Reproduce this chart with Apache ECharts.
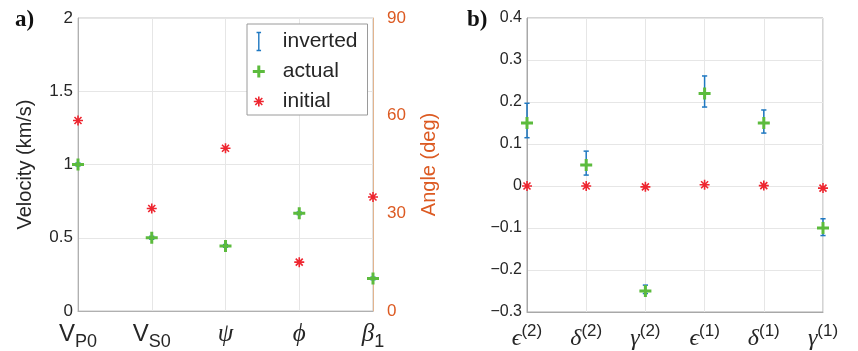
<!DOCTYPE html>
<html><head><meta charset="utf-8">
<script src="https://cdn.jsdelivr.net/npm/echarts@6/dist/echarts.min.js"></script>
<style>html,body{margin:0;padding:0;background:#fff}#c{width:858px;height:351px}</style>
</head><body><div id="c"></div>
<script>
// ---------- Panel a data ----------
const catsA = ['VP0', 'VS0', 'psi', 'phi', 'beta1'];
const labelMainA = ['V', 'V', 'ψ', 'ϕ', 'β'];
const labelSubA = ['P0', 'S0', '', '', '1'];
const velIdx = [0, 1];
const velActual = [1.0, 0.5];
const velInitial = [1.3, 0.7];
const velInvLow = [0.99, 0.49];
const velInvHigh = [1.01, 0.51];
const angIdx = [2, 3, 4];
const angActual = [20, 30, 10];
const angInitial = [50, 15, 35];
const angInvLow = [19.6, 29.6, 9.6];
const angInvHigh = [20.4, 30.4, 10.4];

// ---------- Panel b data ----------
const catsB = ['eps2', 'delta2', 'gamma2', 'eps1', 'delta1', 'gamma1'];
const labelMainB = ['ϵ', 'δ', 'γ', 'ϵ', 'δ', 'γ'];
const labelSupB = ['(2)', '(2)', '(2)', '(1)', '(1)', '(1)'];
const paramActual = [0.15, 0.05, -0.25, 0.22, 0.15, -0.10];
const paramInitial = [0.0, 0.0, -0.002, 0.003, 0.001, -0.005];
const paramInvLow = [0.115, 0.026, -0.256, 0.188, 0.126, -0.118];
const paramInvHigh = [0.197, 0.083, -0.236, 0.262, 0.181, -0.078];

// ---------- styles ----------
const BLUE = '#1f78c1', GREEN = '#5cbb3d', RED = '#ee2630', ORANGE = '#dc5a22';
const TXT = '#262626';
const FONT = '"Liberation Sans", Arial, sans-serif';
const SERIF = '"Liberation Serif", "DejaVu Serif", serif';
const PLUS = 'path://M4.5,0H7.5V4.5H12V7.5H7.5V12H4.5V7.5H0V4.5H4.5Z';
const STAR = 'path://M5,0V10M0,5H10M1.5,1.5L8.5,8.5M8.5,1.5L1.5,8.5';
const STAR_LEG = 'path://M-1,-1L-1,-1M11,11L11,11M5,0V10M0,5H10M1.5,1.5L8.5,8.5M8.5,1.5L1.5,8.5';
const IBEAM = 'path://M0,0H6M3,0V24M0,24H6';

function errRender(params, api) {
  const x = api.value(0), lo = api.value(1), hi = api.value(2);
  const a = api.coord([x, lo]), b = api.coord([x, hi]);
  const cw = 2.6;
  const st = { stroke: BLUE, lineWidth: 1.5, fill: null };
  return { type: 'group', children: [
    { type: 'line', shape: { x1: a[0], y1: a[1], x2: b[0], y2: b[1] }, style: st },
    { type: 'line', shape: { x1: a[0] - cw, y1: a[1], x2: a[0] + cw, y2: a[1] }, style: st },
    { type: 'line', shape: { x1: b[0] - cw, y1: b[1], x2: b[0] + cw, y2: b[1] }, style: st }
  ]};
}
const zip2 = (xs, ys) => xs.map((x, i) => [x, ys[i]]);
const zip3 = (xs, a, b) => xs.map((x, i) => [x, a[i], b[i]]);
const idxB = catsB.map((_, i) => i);

function fmtB(v) {
  const r = Math.round(v * 10) / 10;
  if (r === 0) return '0';
  return (r < 0 ? '\u2212' : '') + Math.abs(r).toFixed(1);
}

const gridLine = { show: true, lineStyle: { color: '#e6e6e6', width: 1 } };
const isGreek = s => /[\u0370-\u03ff]/.test(s);

const option = {
  animation: false,
  backgroundColor: '#fff',
  grid: [
    { left: 78, right: 485, top: 18, bottom: 40, show: true, borderColor: '#c4c4c4', borderWidth: 1, outerBoundsMode: 'none' },
    { left: 527, right: 35, top: 18, bottom: 39, show: true, borderColor: '#a8a8a8', borderWidth: 1, outerBoundsMode: 'none' }
  ],
  legend: {
    data: [
      { name: 'inverted', icon: IBEAM, itemStyle: { color: 'transparent', borderColor: BLUE, borderWidth: 1.4 } },
      { name: 'actual', icon: PLUS, itemStyle: { color: GREEN, borderWidth: 0 } },
      { name: 'initial', icon: STAR_LEG, itemStyle: { color: RED, borderColor: RED, borderWidth: 1.6 } }
    ],
    orient: 'vertical', left: 247, top: 24,
    itemWidth: 12, itemHeight: 18, itemGap: 9,
    padding: [7, 10, 3, 5],
    textStyle: { fontSize: 21, fontFamily: FONT, color: TXT, lineHeight: 20, padding: [0, 0, 0, 13] },
    borderColor: '#9a9a9a', borderWidth: 1, backgroundColor: '#fff',
    selectedMode: false
  },
  xAxis: [
    { type: 'category', gridIndex: 0, data: catsA, boundaryGap: false,
      axisLine: { onZero: false, lineStyle: { color: '#b0b0b0' } }, axisTick: { show: false },
      splitLine: gridLine,
      axisLabel: { interval: 0, margin: 11, showMinLabel: true, showMaxLabel: true,
        formatter: (v, i) => {
          const m = labelMainA[i], s = labelSubA[i];
          const mk = isGreek(m) ? 'g' : 'm';
          return s ? `{${mk}|${m}}{s|${s}}` : `{${mk}|${m}}`;
        },
        rich: {
          m: { fontFamily: FONT, fontSize: 24, color: TXT, verticalAlign: 'top', lineHeight: 29 },
          g: { fontFamily: SERIF, fontStyle: 'italic', fontSize: 25, color: TXT, verticalAlign: 'top', lineHeight: 29 },
          s: { fontFamily: FONT, fontSize: 18, color: TXT, verticalAlign: 'bottom', lineHeight: 18 }
        }
      } },
    { type: 'category', gridIndex: 1, data: catsB, boundaryGap: false,
      axisLine: { onZero: false, lineStyle: { color: '#a8a8a8' } }, axisTick: { show: false },
      splitLine: gridLine,
      axisLabel: { interval: 0, margin: 11, showMinLabel: true, showMaxLabel: true,
        formatter: (v, i) => `{e|${labelMainB[i]}}{p|${labelSupB[i]}}`,
        rich: {
          e: { fontFamily: SERIF, fontStyle: 'italic', fontSize: 24, color: TXT, verticalAlign: 'bottom', lineHeight: 28 },
          p: { fontFamily: FONT, fontSize: 17, color: TXT, verticalAlign: 'top', lineHeight: 17 }
        }
      } }
  ],
  yAxis: [
    { type: 'value', gridIndex: 0, min: 0, max: 2, interval: 0.5,
      name: 'Velocity (km/s)', nameLocation: 'middle', nameGap: 43, nameRotate: 90,
      nameTextStyle: { fontFamily: FONT, fontSize: 20, color: TXT },
      axisLine: { show: true, lineStyle: { color: '#b0b0b0' } }, axisTick: { show: false },
      splitLine: gridLine,
      axisLabel: { fontFamily: FONT, fontSize: 17, color: TXT, margin: 5 } },
    { type: 'value', gridIndex: 0, position: 'right', min: 0, max: 90, interval: 30,
      name: 'Angle (deg)', nameLocation: 'middle', nameGap: 46, nameRotate: 90,
      nameTextStyle: { fontFamily: FONT, fontSize: 20, color: ORANGE },
      axisLine: { show: true, lineStyle: { color: '#e2b48e' } }, axisTick: { show: false },
      splitLine: { show: false },
      axisLabel: { fontFamily: FONT, fontSize: 17, color: ORANGE, margin: 14 } },
    { type: 'value', gridIndex: 1, min: -0.3, max: 0.4, interval: 0.1,
      axisLine: { show: true, lineStyle: { color: '#a8a8a8' } }, axisTick: { show: false },
      splitLine: gridLine,
      axisLabel: { fontFamily: FONT, fontSize: 16, color: TXT, margin: 5, formatter: fmtB } }
  ],
  graphic: [
    { type: 'text', left: 15, top: 9, style: { text: 'a)', font: 'bold 23px "Liberation Serif", serif', fill: '#111' } },
    { type: 'text', left: 467, top: 9, style: { text: 'b)', font: 'bold 23px "Liberation Serif", serif', fill: '#111' } }
  ],
  series: [
    // panel a
    { name: 'inverted', type: 'custom', xAxisIndex: 0, yAxisIndex: 0, renderItem: errRender,
      itemStyle: { color: BLUE }, encode: { x: 0, y: [1, 2] }, data: zip3(velIdx, velInvLow, velInvHigh), z: 2 },
    { name: 'inverted', type: 'custom', xAxisIndex: 0, yAxisIndex: 1, renderItem: errRender,
      itemStyle: { color: BLUE }, encode: { x: 0, y: [1, 2] }, data: zip3(angIdx, angInvLow, angInvHigh), z: 2 },
    { name: 'actual', type: 'scatter', xAxisIndex: 0, yAxisIndex: 0, symbol: PLUS, symbolSize: 12,
      itemStyle: { color: GREEN, opacity: 1 }, data: zip2(velIdx, velActual), z: 3 },
    { name: 'actual', type: 'scatter', xAxisIndex: 0, yAxisIndex: 1, symbol: PLUS, symbolSize: 12,
      itemStyle: { color: GREEN, opacity: 1 }, data: zip2(angIdx, angActual), z: 3 },
    { name: 'initial', type: 'scatter', xAxisIndex: 0, yAxisIndex: 0, symbol: STAR, symbolSize: 10,
      itemStyle: { color: RED, borderColor: RED, borderWidth: 1.6, opacity: 1 }, data: zip2(velIdx, velInitial), z: 4 },
    { name: 'initial', type: 'scatter', xAxisIndex: 0, yAxisIndex: 1, symbol: STAR, symbolSize: 10,
      itemStyle: { color: RED, borderColor: RED, borderWidth: 1.6, opacity: 1 }, data: zip2(angIdx, angInitial), z: 4 },
    // panel b
    { name: 'inverted', type: 'custom', xAxisIndex: 1, yAxisIndex: 2, renderItem: errRender,
      itemStyle: { color: BLUE }, encode: { x: 0, y: [1, 2] }, data: zip3(idxB, paramInvLow, paramInvHigh), z: 2 },
    { name: 'actual', type: 'scatter', xAxisIndex: 1, yAxisIndex: 2, symbol: PLUS, symbolSize: 12,
      itemStyle: { color: GREEN, opacity: 1 }, data: zip2(idxB, paramActual), z: 3 },
    { name: 'initial', type: 'scatter', xAxisIndex: 1, yAxisIndex: 2, symbol: STAR, symbolSize: 10,
      itemStyle: { color: RED, borderColor: RED, borderWidth: 1.6, opacity: 1 }, data: zip2(idxB, paramInitial), z: 4 }
  ]
};

const chart = echarts.init(document.getElementById('c'), null, { renderer: 'canvas' });
chart.setOption(option);
</script>
</body></html>
